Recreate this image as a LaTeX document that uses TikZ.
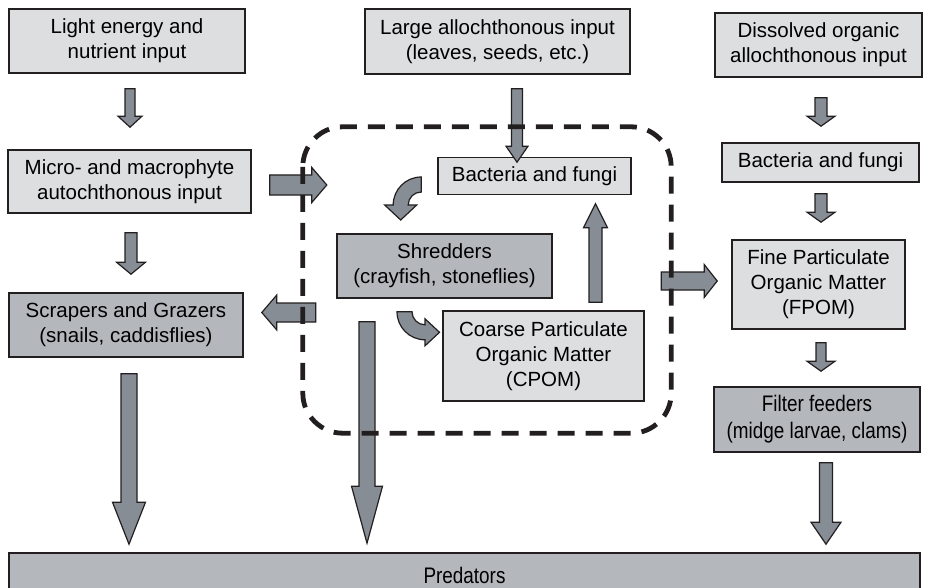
\documentclass[tikz,border=0pt]{standalone}
\usepackage{fontspec}
\setmainfont{Liberation Sans}
\newfontfamily\narrowfont[FakeStretch=0.84]{Liberation Sans}
\usepackage{tikz}
\usetikzlibrary{calc}

\definecolor{boxline}{HTML}{231F20}
\definecolor{lightfill}{HTML}{DCDEE0}
\definecolor{darkfill}{HTML}{B4B8BD}
\definecolor{arrowfill}{HTML}{878D94}

\tikzset{
  lbox/.style={draw=boxline, line width=1.6pt, fill=lightfill, align=center, inner sep=0pt,
    font=\fontsize{20.5}{25}\selectfont},
  dbox/.style={lbox, fill=darkfill},
  nbox/.style={dbox, font=\narrowfont\fontsize{22.5}{27}\selectfont},
  flow/.style n args={3}{fill=arrowfill, draw=boxline, line width=1.2pt, line join=miter,
    to path={let \p1=(\tikztostart), \p2=(\tikztotarget), \p3=($(\p2)!#3!(\p1)$) in
      ($(\p1)!#1!90:(\p2)$) -- ($(\p3)!#1!-90:(\p1)$) -- ($(\p3)!#2!-90:(\p1)$) -- (\p2)
      -- ($(\p3)!#2!90:(\p1)$) -- ($(\p3)!#1!90:(\p1)$) -- ($(\p1)!#1!-90:(\p2)$) -- cycle}},
  curvy/.style={fill=arrowfill, draw=boxline, line width=1.2pt, line join=miter},
  dashline/.style={draw=boxline, line width=4.8pt, dash pattern=on 17pt off 11pt, rounded corners=40pt}
}

\begin{document}
\begin{tikzpicture}[x=1pt,y=-1pt]
\useasboundingbox (0,0) rectangle (928,588);

%inputs
\node[lbox, minimum width=236pt, minimum height=64pt] (light) at (127,41) {Light energy and\\nutrient input};
\node[lbox, minimum width=265pt, minimum height=65pt] (large) at (497.5,41.5) {Large allochthonous input\\(leaves, seeds, etc.)};
\node[lbox, minimum width=207pt, minimum height=64pt] (dissolved) at (818.5,45) {Dissolved organic\\allochthonous input};
\node[lbox, minimum width=243pt, minimum height=63pt] (micro) at (129.5,181.5) {Micro- and macrophyte\\autochthonous input};

%litter processing
\node[minimum width=368pt, minimum height=306pt, inner sep=0pt] (litter) at (487,280) {};
\node[lbox, minimum width=193pt, minimum height=37pt] (bfmid) at (534.5,176) {Bacteria and fungi};
\node[dbox, minimum width=215pt, minimum height=64pt] (shred) at (444.5,266) {Shredders\\(crayfish, stoneflies)};
\node[lbox, minimum width=201pt, minimum height=90pt] (cpom) at (543.5,356) {Coarse Particulate\\Organic Matter\\(CPOM)};

%right column
\node[lbox, minimum width=197pt, minimum height=39pt] (bfright) at (820.5,162.5) {Bacteria and fungi};
\node[lbox, minimum width=173pt, minimum height=89pt] (fpom) at (818.5,284.5) {Fine Particulate\\Organic Matter\\(FPOM)};
\node[nbox, minimum width=206pt, minimum height=65pt] (filter) at (817,419.5) {Filter feeders\\(midge larvae, clams)};

\node[dbox, minimum width=234pt, minimum height=64pt] (scrap) at (126,325) {Scrapers and Grazers\\(snails, caddisflies)};
\node[nbox, minimum width=911pt, minimum height=44pt] (pred) at (464.5,575) {Predators};

%fleches
\draw[flow={5pt}{12pt}{11pt}] ($(light.south)+(3,15)$) to ($(micro.north)+(0.5,-22)$);
\draw[flow={5.5pt}{11pt}{16pt}] ($(large.south)+(19.5,14)$) to ($(bfmid.north)+(-17.5,5.5)$);
\draw[flow={6pt}{14pt}{10pt}] ($(dissolved.south)+(2.5,20)$) to ($(bfright.north)+(0.5,-16)$);
\draw[flow={10pt}{17.5pt}{15pt}] ($(micro.east)+(18,3.5)$) to ($(litter.west |- micro.east)+(24,3.5)$);
\draw[flow={9.5pt}{17.5pt}{15pt}] ($(litter.west |- scrap.east)+(13,-12.5)$) to ($(scrap.east)+(18,-12.5)$);
\draw[flow={6pt}{14.5pt}{12pt}] ($(micro.south)+(1.5,19)$) to ($(scrap.north)+(5,-18)$);
\draw[flow={6pt}{14pt}{10pt}] ($(bfright.south)+(0.5,11)$) to ($(fpom.north)+(2.5,-17)$);
\draw[flow={6.5pt}{12pt}{24pt}] ($(cpom.north)+(52,-8)$) to ($(bfmid.south)+(61,8.5)$);
\draw[flow={9pt}{16.5pt}{13pt}] ($(litter.east)+(-10,1)$) to ($(fpom.west)+(-14,-3.5)$);
\draw[flow={5pt}{14pt}{10pt}] ($(fpom.south)+(2.5,13)$) to ($(filter.north)+(4,-15)$);
\draw[flow={8pt}{16.5pt}{42pt}] ($(scrap.south)+(3,16)$) to ($(pred.north)+(-335.5,-8)$);
\draw[flow={8pt}{15.5pt}{57pt}] ($(shred.south)+(-77.5,23)$) to ($(pred.north)+(-97.5,-9)$);
\draw[flow={6.5pt}{15pt}{22pt}] ($(filter.south)+(9,10)$) to ($(pred.north)+(361.5,-8)$);

%fleches courbes
\draw[curvy] ($(bfmid.west)+(-16,1)$) arc[start angle=270, end angle=180, radius=28]
  -- ++(-8.5,0) -- ++(16,15) -- ++(16,-15) -- ++(-8.5,0)
  arc[start angle=180, end angle=270, radius=13] -- cycle;
\draw[curvy] ($(shred.south)+(-47.5,13)$) arc[start angle=180, end angle=90, radius=28]
  -- ++(0,6) -- ++(14.5,-13.5) -- ++(-14.5,-13.5) -- ++(0,6)
  arc[start angle=90, end angle=180, radius=13] -- cycle;

\draw[dashline] (litter.north west) rectangle (litter.south east);

\end{tikzpicture}
\end{document}
